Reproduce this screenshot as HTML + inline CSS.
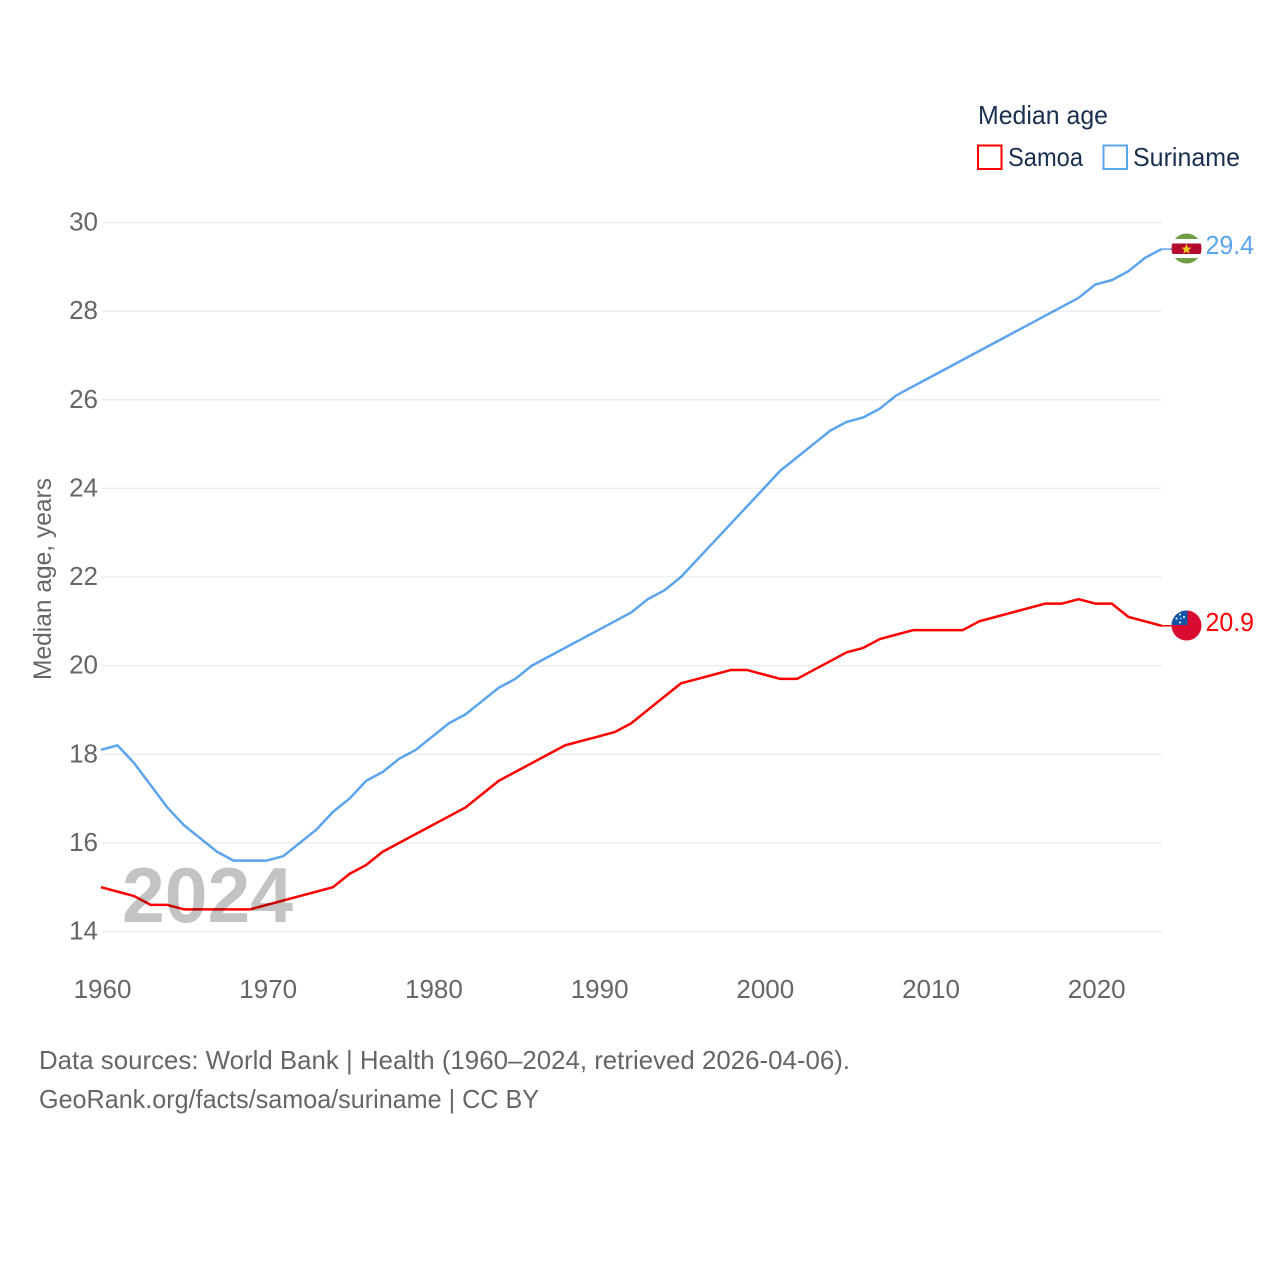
<!DOCTYPE html>
<html lang="en">
<head>
<meta charset="utf-8">
<title>Median age: Samoa and Suriname</title>
<style>
html,body{margin:0;padding:0;background:#fff;}
svg{display:block;font-family:"Liberation Sans",Arial,sans-serif;}
</style>
</head>
<body>
<svg id="chart" xmlns="http://www.w3.org/2000/svg" width="1280" height="1280" viewBox="0 0 1280 1280">
  <rect width="1280" height="1280" fill="#fff"/>
  <g id="grid"></g>
  <g id="yticks"></g>
  <g id="xticks"></g>
  <text x="122" y="922" font-size="78" font-weight="bold" fill="#c3c3c3" textLength="171" lengthAdjust="spacingAndGlyphs">2024</text>
  <g id="series" style="mix-blend-mode:multiply"></g>
  <text transform="translate(51,680) rotate(-90)" font-size="25" fill="#666" textLength="202" lengthAdjust="spacingAndGlyphs">Median age, years</text>

  <text x="978" y="124" font-size="26" fill="#1a3050" textLength="130" lengthAdjust="spacingAndGlyphs">Median age</text>
  <g>
    <rect x="978" y="145.5" width="23.5" height="23.5" fill="#fff" stroke="#ff0000" stroke-width="2"/>
    <text x="1008" y="166" font-size="26" fill="#1a3050" textLength="75" lengthAdjust="spacingAndGlyphs">Samoa</text>
  </g>
  <g>
    <rect x="1103.5" y="145.5" width="23.5" height="23.5" fill="#fff" stroke="#5ba4ee" stroke-width="2"/>
    <text x="1133" y="166" font-size="26" fill="#1a3050" textLength="107" lengthAdjust="spacingAndGlyphs">Suriname</text>
  </g>

  <defs>
    <clipPath id="flagClipSr"><circle cx="1186.5" cy="248.5" r="15"/></clipPath>
    <clipPath id="flagClipWs"><circle cx="1186.5" cy="625.5" r="15"/></clipPath>
  </defs>
  <g id="flag-suriname" clip-path="url(#flagClipSr)">
    <rect x="1171" y="233" width="31" height="31" fill="#6f9e46"/>
    <rect x="1171" y="239" width="31" height="19" fill="#fff"/>
    <rect x="1171" y="243.5" width="31" height="10.5" fill="#b40a2d"/>
    <polygon points="1186.5,243.8 1187.9,247.6 1191.5,247.6 1188.6,250 1189.6,253.6 1186.5,251.5 1183.4,253.6 1184.4,250 1181.5,247.6 1185.1,247.6" fill="#f5cf1f"/>
  </g>
  <g id="flag-samoa" clip-path="url(#flagClipWs)">
    <rect x="1171" y="610" width="31" height="31" fill="#da0b31"/>
    <rect x="1171" y="610" width="16.5" height="15" fill="#0f55a8"/>
    <circle cx="1180" cy="614.5" r="1" fill="#fff"/>
    <circle cx="1184" cy="617" r="1" fill="#fff"/>
    <circle cx="1176.5" cy="618.5" r="1" fill="#fff"/>
    <circle cx="1181" cy="618.5" r="0.7" fill="#fff"/>
    <circle cx="1180" cy="622.5" r="1" fill="#fff"/>
  </g>
  <text x="1205.5" y="254" font-size="26" fill="#5ba4ee" textLength="48.5" lengthAdjust="spacingAndGlyphs">29.4</text>
  <text x="1205.5" y="631" font-size="26" fill="#ff0000" textLength="48.5" lengthAdjust="spacingAndGlyphs">20.9</text>

  <text x="39" y="1069" font-size="26" fill="#666" textLength="811" lengthAdjust="spacingAndGlyphs">Data sources: World Bank | Health (1960–2024, retrieved 2026-04-06).</text>
  <text x="39" y="1108" font-size="26" fill="#666" textLength="500" lengthAdjust="spacingAndGlyphs">GeoRank.org/facts/samoa/suriname | CC BY</text>
</svg>
<script>
var years = [1960,1961,1962,1963,1964,1965,1966,1967,1968,1969,1970,1971,1972,1973,1974,1975,1976,1977,1978,1979,1980,1981,1982,1983,1984,1985,1986,1987,1988,1989,1990,1991,1992,1993,1994,1995,1996,1997,1998,1999,2000,2001,2002,2003,2004,2005,2006,2007,2008,2009,2010,2011,2012,2013,2014,2015,2016,2017,2018,2019,2020,2021,2022,2023,2024];
var samoaValues = [15.0,14.9,14.8,14.6,14.6,14.5,14.5,14.5,14.5,14.5,14.6,14.7,14.8,14.9,15.0,15.3,15.5,15.8,16.0,16.2,16.4,16.6,16.8,17.1,17.4,17.6,17.8,18.0,18.2,18.3,18.4,18.5,18.7,19.0,19.3,19.6,19.7,19.8,19.9,19.9,19.8,19.7,19.7,19.9,20.1,20.3,20.4,20.6,20.7,20.8,20.8,20.8,20.8,21.0,21.1,21.2,21.3,21.4,21.4,21.5,21.4,21.4,21.1,21.0,20.9];
var surinameValues = [18.1,18.2,17.8,17.3,16.8,16.4,16.1,15.8,15.6,15.6,15.6,15.7,16.0,16.3,16.7,17.0,17.4,17.6,17.9,18.1,18.4,18.7,18.9,19.2,19.5,19.7,20.0,20.2,20.4,20.6,20.8,21.0,21.2,21.5,21.7,22.0,22.4,22.8,23.2,23.6,24.0,24.4,24.7,25.0,25.3,25.5,25.6,25.8,26.1,26.3,26.5,26.7,26.9,27.1,27.3,27.5,27.7,27.9,28.1,28.3,28.6,28.7,28.9,29.2,29.4];
var yTickLabels = [14,16,18,20,22,24,26,28,30];
var xTickLabels = [1960,1970,1980,1990,2000,2010,2020];

var SVG_NS = 'http://www.w3.org/2000/svg';
function xScale(year){ return 101 + (year - 1960) * (1161.5 - 101) / 64; }
function yScale(value){ return 931.5 - (value - 14) * (931.5 - 222.5) / 16; }

var gridGroup = document.getElementById('grid');
var yTickGroup = document.getElementById('yticks');
var xTickGroup = document.getElementById('xticks');
var seriesGroup = document.getElementById('series');

yTickLabels.forEach(function(tick){
  var line = document.createElementNS(SVG_NS, 'line');
  
  
  line.setAttribute('x1', 101.5);
  line.setAttribute('x2', 1162);
  line.setAttribute('y1', yScale(tick));
  line.setAttribute('y2', yScale(tick));
  line.setAttribute('stroke', '#eeeeee');
  line.setAttribute('stroke-width', 1.6);
  gridGroup.appendChild(line);

  var label = document.createElementNS(SVG_NS, 'text');
  
  
  label.setAttribute('x', 98);
  label.setAttribute('y', yScale(tick) + 8);
  label.setAttribute('text-anchor', 'end');
  label.setAttribute('font-size', 26);
  label.setAttribute('fill', '#666');
  label.textContent = tick;
  yTickGroup.appendChild(label);
});

xTickLabels.forEach(function(tick){
  var label = document.createElementNS(SVG_NS, 'text');
  
  
  label.setAttribute('x', xScale(tick) + 1.5);
  label.setAttribute('y', 998);
  label.setAttribute('text-anchor', 'middle');
  label.setAttribute('font-size', 26);
  label.setAttribute('fill', '#666');
  label.textContent = tick;
  xTickGroup.appendChild(label);
});

function pointsFor(values){
  return values.map(function(value, i){
    return xScale(years[i]).toFixed(2) + ',' + yScale(value).toFixed(2);
  });
}

var samoaLine = document.createElementNS(SVG_NS, 'polyline');


samoaLine.setAttribute('points', pointsFor(samoaValues).join(' '));
samoaLine.setAttribute('fill', 'none');
samoaLine.setAttribute('stroke', '#ff0000');
samoaLine.setAttribute('stroke-width', 2.5);
samoaLine.setAttribute('stroke-linejoin', 'round');
seriesGroup.appendChild(samoaLine);

var surinameLine = document.createElementNS(SVG_NS, 'polyline');


surinameLine.setAttribute('points', pointsFor(surinameValues).join(' '));
surinameLine.setAttribute('fill', 'none');
surinameLine.setAttribute('stroke', '#5ba4ee');
surinameLine.setAttribute('stroke-width', 2.5);
surinameLine.setAttribute('stroke-linejoin', 'round');
seriesGroup.appendChild(surinameLine);

var samoaConnector = document.createElementNS(SVG_NS, 'line');


samoaConnector.setAttribute('x1', xScale(2024));
samoaConnector.setAttribute('x2', xScale(2024) + 10);
samoaConnector.setAttribute('y1', yScale(samoaValues[samoaValues.length - 1]));
samoaConnector.setAttribute('y2', yScale(samoaValues[samoaValues.length - 1]));
samoaConnector.setAttribute('stroke', '#ff0000');
samoaConnector.setAttribute('stroke-width', 1.5);
seriesGroup.appendChild(samoaConnector);

var surinameConnector = document.createElementNS(SVG_NS, 'line');


surinameConnector.setAttribute('x1', xScale(2024));
surinameConnector.setAttribute('x2', xScale(2024) + 10);
surinameConnector.setAttribute('y1', yScale(surinameValues[surinameValues.length - 1]));
surinameConnector.setAttribute('y2', yScale(surinameValues[surinameValues.length - 1]));
surinameConnector.setAttribute('stroke', '#5ba4ee');
surinameConnector.setAttribute('stroke-width', 1.5);
seriesGroup.appendChild(surinameConnector);
</script>
</body>
</html>
